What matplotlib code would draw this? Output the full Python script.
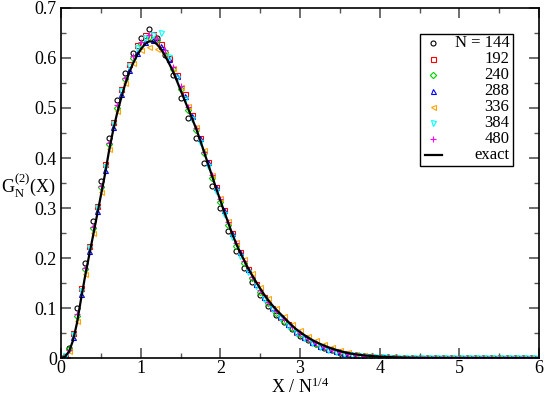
import numpy as np
import matplotlib
matplotlib.use('Agg')
import matplotlib.pyplot as plt
from matplotlib.patches import Rectangle

plt.rcParams['font.family'] = ['Liberation Serif', 'DejaVu Serif']
plt.rcParams['mathtext.fontset'] = 'stix'

#%% data read off the reference
# grid A : X = 0.0, 0.1, ..., 6.0   (61 points)
# grid B : X = 0.05, 0.15, ..., 5.95 (60 points)
xA = np.round(np.arange(0, 61) * 0.1, 3)
xB = np.round(np.arange(0, 60) * 0.1 + 0.05, 3)

tailA = [0.0] * 18
tailB = [0.0] * 17

y144 = [0.0, 0.02, 0.10, 0.19, 0.275, 0.355, 0.44, 0.515, 0.57, 0.61,
        0.64, 0.658, 0.64, 0.605, 0.565, 0.52, 0.48, 0.44, 0.39, 0.345,
        0.30, 0.255, 0.215, 0.18, 0.153, 0.127, 0.105, 0.087, 0.072, 0.058,
        0.045, 0.036, 0.028, 0.021, 0.016, 0.011, 0.008, 0.006, 0.004, 0.003,
        0.002, 0.0015, 0.001] + tailA
y240 = [0.0, 0.018, 0.085, 0.178, 0.26, 0.342, 0.428, 0.50, 0.558, 0.60,
        0.628, 0.642, 0.635, 0.612, 0.578, 0.538, 0.495, 0.455, 0.41, 0.36,
        0.312, 0.266, 0.225, 0.19, 0.16, 0.133, 0.110, 0.091, 0.075, 0.060,
        0.048, 0.038, 0.029, 0.022, 0.017, 0.012, 0.009, 0.0065, 0.0045, 0.0035,
        0.0025, 0.0018, 0.0012] + tailA
y336 = [0.0, 0.014, 0.075, 0.168, 0.25, 0.332, 0.418, 0.493, 0.55, 0.59,
        0.615, 0.622, 0.618, 0.605, 0.58, 0.542, 0.503, 0.462, 0.416, 0.367,
        0.32, 0.274, 0.233, 0.199, 0.17, 0.143, 0.12, 0.101, 0.085, 0.069,
        0.056, 0.045, 0.036, 0.028, 0.022, 0.017, 0.012, 0.009, 0.0065, 0.005,
        0.0035, 0.0025, 0.002] + tailA
y480 = [0.0, 0.017, 0.088, 0.18, 0.262, 0.345, 0.43, 0.505, 0.56, 0.603,
        0.632, 0.645, 0.638, 0.615, 0.582, 0.543, 0.502, 0.46, 0.413, 0.366,
        0.318, 0.272, 0.23, 0.194, 0.163, 0.136, 0.113, 0.094, 0.078, 0.062,
        0.05, 0.039, 0.03, 0.023, 0.017, 0.013, 0.009, 0.007, 0.005, 0.0035,
        0.0025, 0.0018, 0.0012] + tailA

y192 = [0.004, 0.05, 0.14, 0.225, 0.305, 0.388, 0.472, 0.537, 0.588, 0.625,
        0.645, 0.648, 0.628, 0.60, 0.566, 0.527, 0.486, 0.44, 0.392, 0.343,
        0.296, 0.25, 0.212, 0.178, 0.148, 0.122, 0.101, 0.083, 0.068, 0.053,
        0.042, 0.032, 0.025, 0.019, 0.014, 0.010, 0.007, 0.005, 0.0035, 0.0025,
        0.0018, 0.0012, 0.0008] + tailB
y288 = [0.003, 0.043, 0.128, 0.214, 0.295, 0.377, 0.462, 0.527, 0.576, 0.61,
        0.632, 0.636, 0.624, 0.598, 0.563, 0.524, 0.484, 0.44, 0.392, 0.343,
        0.296, 0.251, 0.212, 0.178, 0.149, 0.123, 0.102, 0.085, 0.069, 0.055,
        0.043, 0.033, 0.025, 0.019, 0.014, 0.010, 0.0075, 0.0055, 0.004, 0.003,
        0.002, 0.0015, 0.001] + tailB
y384 = [0.004, 0.047, 0.135, 0.22, 0.30, 0.382, 0.468, 0.533, 0.583, 0.62,
        0.64, 0.645, 0.65, 0.602, 0.56, 0.518, 0.478, 0.432, 0.384, 0.334,
        0.288, 0.243, 0.205, 0.172, 0.144, 0.119, 0.098, 0.081, 0.065, 0.051,
        0.04, 0.03, 0.023, 0.017, 0.012, 0.008, 0.006, 0.004, 0.003, 0.002,
        0.0013, 0.0008, 0.0005] + tailB

# exact curve
xExact = [0.0, 0.05, 0.1, 0.15, 0.2, 0.25, 0.3, 0.35, 0.4, 0.45, 0.5, 0.55,
          0.6, 0.65, 0.7, 0.75, 0.8, 0.85, 0.9, 0.95, 1.0, 1.05, 1.1, 1.15,
          1.2, 1.25, 1.3, 1.35, 1.4, 1.45, 1.5, 1.55, 1.6, 1.65, 1.7, 1.75,
          1.8, 1.85, 1.9, 1.95, 2.0, 2.05, 2.1, 2.15, 2.2, 2.25, 2.3, 2.35,
          2.4, 2.45, 2.5, 2.55, 2.6, 2.65, 2.7, 2.75, 2.8, 2.85, 2.9, 2.95,
          3.0, 3.1, 3.2, 3.3, 3.4, 3.5, 3.6, 3.7, 3.8, 3.9, 4.0, 4.2, 4.4,
          4.6, 5.0, 5.5, 6.0]
yExact = [0.0, 0.003, 0.013, 0.035, 0.070, 0.117, 0.162, 0.203, 0.243, 0.284,
          0.325, 0.366, 0.412, 0.452, 0.487, 0.517, 0.545, 0.568, 0.588, 0.604,
          0.617, 0.627, 0.633, 0.633, 0.628, 0.619, 0.606, 0.591, 0.575, 0.556,
          0.536, 0.516, 0.497, 0.477, 0.457, 0.434, 0.410, 0.386, 0.362, 0.338,
          0.315, 0.292, 0.270, 0.248, 0.228, 0.211, 0.195, 0.179, 0.165, 0.152,
          0.139, 0.127, 0.116, 0.106, 0.097, 0.089, 0.081, 0.073, 0.065, 0.058,
          0.052, 0.041, 0.032, 0.025, 0.019, 0.014, 0.010, 0.0075, 0.0055, 0.004,
          0.003, 0.0015, 0.0007, 0.0003, 0.0001, 0.0, 0.0]

series = [
    ('N = 144', xA, y144, 'o', 'black'),
    ('192',     xB, y192, 's', 'red'),
    ('240',     xA, y240, 'D', '#00d000'),
    ('288',     xB, y288, '^', 'blue'),
    ('336',     xA, y336, '<', 'orange'),
    ('384',     xB, y384, 'v', 'cyan'),
    ('480',     xA, y480, '+', 'magenta'),
]

def msize(m):
    if m == '+':
        return 4.5
    if m == 'D':
        return 3.2
    return 3.6

#%% plot
fig = plt.figure(figsize=(5.45, 3.97), dpi=100)
ax = fig.add_axes([0.112, 0.098, 0.877, 0.882])

for label, xs, ys, m, c in series:
    ax.plot(xs, ys, ls='none', marker=m, ms=msize(m), mfc='none', mec=c,
            mew=0.8)
ax.plot(xExact, yExact, color='black', lw=1.6, zorder=5)

ax.set_xlim(0, 6)
ax.set_ylim(0, 0.7)
ax.set_xticks(np.arange(0, 7, 1))
ax.set_xticks(np.arange(0, 6.01, 0.5), minor=True)
ax.set_yticks(np.arange(0, 0.71, 0.1))
ax.set_yticks(np.arange(0, 0.701, 0.05), minor=True)
ax.set_xticklabels(['0', '1', '2', '3', '4', '5', '6'])
ax.set_yticklabels(['0', '0.1', '0.2', '0.3', '0.4', '0.5', '0.6', '0.7'])
ax.tick_params(which='both', direction='in', top=True, right=True,
               labelsize=13, color='#555555')
ax.tick_params(which='major', length=7, width=1.2)
ax.tick_params(which='minor', length=3.5, width=1.0)
ax.tick_params(axis='x', pad=1.5)
ax.tick_params(axis='y', pad=3)
for sp in ax.spines.values():
    sp.set_linewidth(1.2)

ax.set_xlabel(r'X / N$^{\mathregular{1/4}}$', fontsize=13, labelpad=0.5)
fig.text(0.052, 0.531, r'G$_\mathregular{N}^{\mathregular{(2)}}$(X)',
         fontsize=13, ha='center', va='center')

#%% legend drawn by hand (xmgrace style, right aligned labels)
lx0, lx1, ly0, ly1 = 0.751, 0.946, 0.55, 0.926
ax.add_patch(Rectangle((lx0, ly0), lx1 - lx0, ly1 - ly0, transform=ax.transAxes,
                       fill=True, fc='white', ec='black', lw=1.0, zorder=10))
rowTop = 0.899
rowStep = 0.0457
mx = 0.778
tx = 0.938
for i, (label, xs, ys, m, c) in enumerate(series):
    yy = rowTop - i * rowStep
    ax.plot([mx], [yy], ls='none', marker=m, ms=msize(m), mfc='none', mec=c,
            mew=0.8, transform=ax.transAxes, zorder=11, clip_on=False)
    ax.text(tx, yy, label, transform=ax.transAxes, ha='right', va='center',
            fontsize=12, zorder=11)
yy = rowTop - 7 * rowStep
ax.plot([0.761, 0.797], [yy, yy], color='black', lw=1.6,
        transform=ax.transAxes, zorder=11, clip_on=False)
ax.text(tx, yy, 'exact', transform=ax.transAxes, ha='right', va='center',
        fontsize=12, zorder=11)

fig.savefig('out.png', dpi=100)
